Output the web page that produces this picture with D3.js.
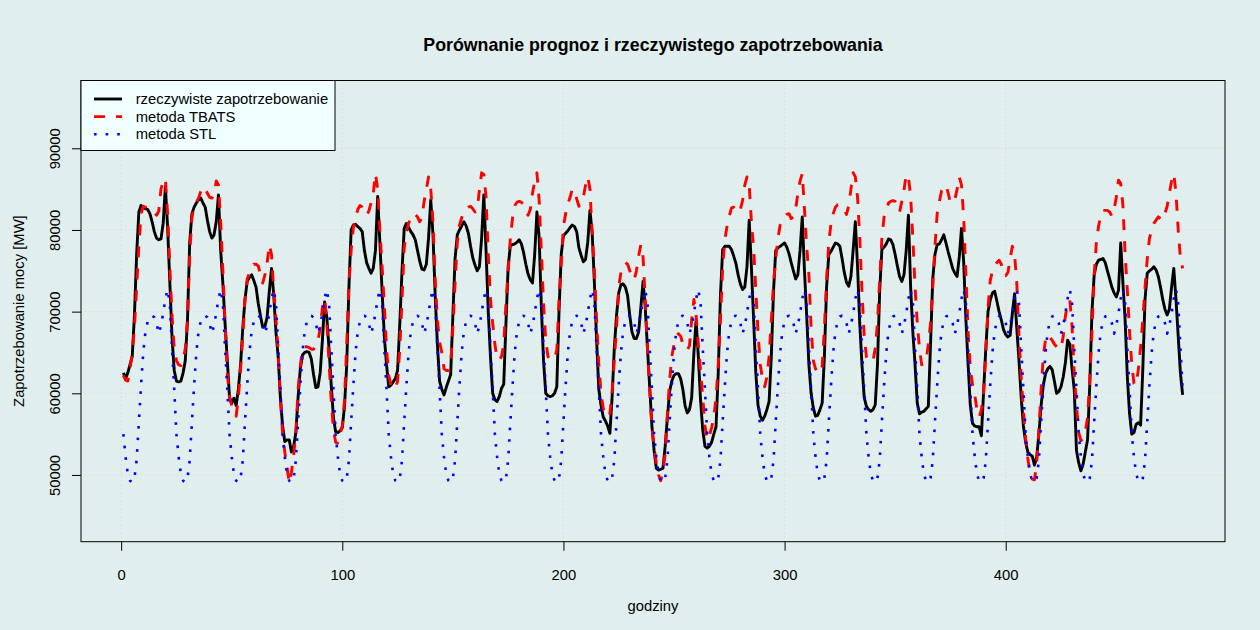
<!DOCTYPE html>
<html>
<head>
<meta charset="utf-8">
<script src="https://cdn.jsdelivr.net/npm/d3@7"></script>
<style>
  body { margin: 0; background: #e0eeee; }
  text { font-family: "Liberation Sans", Arial, Helvetica, sans-serif; fill: #000; }
</style>
</head>
<body>
<script>
// hourly demand, thousands of MW, 20 days x 24 h (x = 1..480)
var actual = [
  62.5, 61.8, 62.5, 63.5, 64.5, 69.5, 77.0, 82.2, 83.0, 82.8, 82.6, 82.5, 82.0, 81.0, 79.8, 79.0, 78.8, 78.9, 80.8, 85.3, 80.4, 73.6, 66.9, 62.8,
  61.5, 61.4, 61.5, 62.5, 64.0, 69.0, 78.5, 82.0, 82.8, 83.3, 83.7, 83.9, 83.3, 82.8, 81.2, 79.8, 79.0, 79.4, 81.0, 84.3, 77.5, 73.4, 68.5, 64.0,
  59.5, 58.8, 59.4, 58.5, 60.5, 63.5, 68.0, 71.5, 73.7, 74.2, 74.5, 73.8, 73.0, 71.0, 69.5, 68.1, 68.2, 69.3, 72.5, 75.3, 72.0, 67.5, 64.5, 59.5,
  56.0, 54.1, 54.3, 54.3, 52.8, 53.5, 55.2, 59.5, 63.0, 64.7, 65.0, 65.1, 65.0, 64.2, 62.3, 60.7, 60.8, 62.5, 66.5, 71.2, 69.3, 65.5, 61.0, 57.0,
  55.3, 55.2, 55.4, 55.8, 58.4, 63.5, 73.0, 80.0, 80.6, 80.7, 80.4, 80.2, 79.8, 77.5, 76.0, 75.3, 74.7, 75.3, 77.5, 84.1, 78.5, 72.5, 67.0, 63.5,
  60.8, 61.0, 61.4, 61.8, 62.8, 68.5, 75.0, 80.2, 80.8, 80.3, 79.8, 79.4, 78.8, 77.5, 76.2, 75.2, 75.1, 75.8, 79.0, 83.7, 79.5, 72.0, 66.0, 61.5,
  60.5, 59.8, 60.7, 61.5, 62.3, 69.5, 76.5, 79.4, 80.0, 80.5, 81.0, 80.5, 79.6, 78.0, 76.6, 75.7, 75.0, 75.5, 79.0, 84.3, 77.5, 70.0, 64.5, 60.0,
  59.2, 59.0, 59.6, 60.6, 61.1, 68.5, 75.5, 78.1, 78.2, 78.3, 78.5, 78.8, 78.3, 77.2, 75.8, 74.6, 73.9, 73.5, 77.0, 82.2, 79.2, 70.7, 64.0, 60.0,
  59.7, 59.6, 59.7, 60.0, 60.8, 70.0, 77.0, 79.3, 79.6, 79.9, 80.3, 80.6, 80.4, 79.8, 77.8, 76.9, 76.1, 76.4, 78.5, 82.4, 79.6, 73.5, 66.5, 60.5,
  58.5, 57.1, 56.6, 56.0, 55.1, 59.5, 65.5, 69.5, 72.3, 73.3, 73.4, 73.0, 72.0, 69.5, 67.5, 66.7, 66.7, 67.5, 70.5, 73.7, 70.5, 65.5, 60.8, 56.0,
  53.0, 50.8, 50.6, 50.7, 50.8, 53.5, 57.0, 60.2, 61.5, 62.2, 62.4, 62.4, 61.8, 60.5, 58.5, 57.6, 58.0, 59.5, 65.0, 69.0, 64.5, 59.2, 55.5, 53.5,
  53.3, 53.5, 54.0, 55.0, 55.9, 62.5, 72.0, 77.6, 78.0, 78.0, 78.0, 77.6, 76.8, 75.9, 74.5, 73.4, 72.7, 73.0, 75.5, 81.2, 75.5, 69.0, 62.5, 58.5,
  57.2, 56.7, 57.2, 58.0, 59.0, 64.5, 72.5, 77.5, 77.8, 78.0, 78.2, 78.4, 77.9, 77.1, 76.0, 75.0, 74.0, 74.5, 77.5, 81.6, 75.0, 69.5, 63.5, 60.0,
  58.2, 57.2, 57.3, 58.0, 58.8, 64.5, 73.0, 77.0, 77.4, 77.9, 78.4, 78.3, 78.0, 76.5, 74.8, 73.6, 73.1, 74.3, 77.5, 81.0, 75.5, 68.5, 63.5, 59.5,
  58.4, 58.0, 57.8, 58.0, 58.6, 63.5, 72.5, 77.6, 77.9, 78.3, 78.9, 78.8, 78.2, 77.0, 75.6, 74.3, 73.7, 74.5, 77.5, 81.8, 73.0, 67.5, 63.5, 58.8,
  57.5, 57.7, 57.8, 58.1, 58.4, 66.0, 74.0, 77.0, 78.2, 78.3, 78.8, 79.4, 78.4, 77.3, 76.3, 75.3, 74.7, 74.3, 76.7, 80.2, 76.0, 69.0, 63.5, 58.5,
  56.3, 56.0, 55.9, 55.9, 54.8, 60.2, 65.5, 70.0, 71.4, 72.3, 72.5, 71.3, 70.0, 69.0, 67.8, 67.2, 66.9, 67.1, 69.8, 72.2, 68.0, 64.0, 59.5, 56.0,
  54.0, 52.8, 52.5, 52.3, 51.2, 52.2, 55.0, 58.5, 61.0, 62.4, 63.0, 63.3, 62.9, 61.5, 60.0, 60.2, 60.8, 62.0, 63.8, 66.5, 66.0, 63.0, 60.4, 53.0,
  51.5, 50.5, 51.3, 52.8, 54.3, 61.0, 70.0, 74.5, 75.8, 76.3, 76.4, 76.5, 76.0, 75.0, 74.0, 73.0, 72.3, 71.8, 72.6, 78.4, 73.5, 69.0, 62.0, 57.5,
  55.0, 55.2, 56.2, 56.4, 56.1, 63.0, 71.5, 74.7, 75.0, 75.2, 75.5, 75.1, 74.3, 73.0, 71.5, 70.3, 69.6, 70.3, 73.0, 75.3, 71.5, 67.0, 62.5, 59.8
];

var tbats = [
  62.2, 61.6, 61.5, 63.0, 65.0, 68.0, 73.0, 78.0, 82.0, 82.9, 82.8, 82.7, 82.6, 82.5, 82.2, 81.8, 82.3, 85.0, 86.0, 86.3, 82.0, 75.5, 69.5, 65.5,
  64.0, 63.5, 63.4, 64.0, 65.5, 69.0, 77.0, 81.5, 83.0, 83.4, 83.9, 84.7, 85.3, 85.0, 84.5, 84.0, 83.9, 84.3, 86.0, 85.5, 81.0, 75.0, 68.5, 62.4,
  59.5, 58.5, 57.8, 57.2, 59.5, 63.0, 67.0, 71.5, 74.0, 74.8, 75.3, 75.8, 75.8, 75.6, 74.5, 73.5, 74.5, 76.0, 78.2, 77.0, 72.5, 69.2, 65.0, 59.5,
  55.0, 52.8, 51.0, 49.0, 50.3, 52.5, 55.0, 60.5, 63.3, 65.5, 65.7, 65.7, 65.6, 65.4, 65.4, 65.8, 66.4, 68.0, 70.5, 71.6, 68.5, 63.8, 59.0, 55.5,
  54.0, 53.9, 55.0, 56.0, 59.2, 66.0, 73.5, 77.5, 80.3, 81.5, 82.5, 83.0, 82.8, 82.3, 81.8, 82.3, 83.3, 84.5, 86.9, 85.0, 80.0, 75.5, 70.8, 65.5,
  62.2, 61.0, 60.5, 60.6, 61.5, 65.5, 71.5, 77.8, 79.8, 80.8, 81.6, 82.0, 81.9, 81.6, 81.0, 81.5, 83.5, 85.0, 86.5, 85.0, 81.0, 74.0, 69.0, 66.3,
  65.0, 63.0, 62.8, 62.8, 63.5, 68.0, 73.5, 78.5, 80.6, 81.5, 82.3, 82.6, 82.8, 82.9, 82.6, 82.2, 82.5, 84.9, 87.0, 86.8, 84.0, 77.0, 71.5, 68.6,
  66.0, 64.2, 64.1, 64.5, 66.0, 71.0, 75.0, 79.0, 81.5, 83.0, 83.4, 83.5, 83.4, 83.0, 82.4, 81.8, 82.5, 84.5, 86.0, 87.0, 83.7, 77.5, 71.0, 66.5,
  64.5, 64.1, 64.1, 64.3, 65.3, 71.5, 76.0, 80.5, 82.0, 83.2, 84.0, 85.0, 84.8, 83.8, 82.9, 83.5, 84.0, 85.5, 86.5, 85.0, 79.5, 75.0, 69.0, 63.5,
  60.0, 58.2, 57.1, 57.3, 57.5, 60.2, 64.0, 68.0, 73.0, 74.8, 75.6, 76.0, 75.8, 75.0, 74.3, 73.9, 75.0, 76.8, 78.2, 76.7, 71.5, 65.5, 60.5, 55.8,
  53.5, 51.4, 50.0, 49.3, 50.5, 52.5, 57.5, 61.5, 64.5, 66.0, 67.0, 67.3, 67.0, 66.0, 65.5, 65.3, 65.8, 69.0, 71.5, 69.5, 66.0, 62.8, 59.5, 56.0,
  54.3, 54.8, 55.8, 57.0, 59.5, 63.5, 69.0, 75.5, 78.8, 80.5, 81.7, 82.7, 82.8, 82.5, 82.1, 82.5, 83.6, 85.5, 86.5, 85.5, 81.0, 77.8, 72.5, 67.5,
  63.5, 61.8, 60.8, 62.0, 64.5, 69.0, 73.5, 76.5, 79.0, 80.6, 81.2, 81.7, 81.9, 82.0, 81.4, 81.6, 82.5, 84.5, 86.0, 86.9, 82.5, 78.0, 74.5, 68.0,
  64.0, 63.0, 62.4, 62.8, 63.3, 68.0, 74.0, 78.5, 80.8, 82.0, 82.8, 83.1, 83.0, 82.9, 82.5, 81.9, 83.0, 85.0, 87.0, 86.5, 84.0, 79.0, 72.5, 67.0,
  64.5, 63.9, 63.9, 64.0, 65.5, 68.6, 74.0, 79.0, 81.6, 82.5, 83.3, 83.5, 83.6, 83.5, 83.0, 82.2, 83.5, 84.9, 86.8, 86.5, 84.1, 79.0, 73.0, 68.6,
  65.5, 63.5, 63.6, 64.0, 66.0, 68.6, 73.0, 78.0, 82.0, 83.5, 84.8, 85.3, 85.5, 84.5, 83.3, 83.4, 83.7, 85.0, 86.5, 85.5, 81.5, 74.5, 67.5, 63.0,
  61.0, 59.8, 58.0, 57.1, 58.0, 60.0, 65.0, 70.5, 73.8, 75.0, 75.6, 76.0, 76.3, 75.8, 74.5, 74.4, 74.8, 76.5, 78.0, 77.0, 73.5, 67.0, 62.0, 58.0,
  54.5, 52.0, 50.3, 49.5, 49.4, 51.5, 55.5, 60.5, 64.5, 66.6, 67.2, 66.8, 66.5, 66.0, 65.7, 65.4, 65.5, 67.0, 69.5, 71.0, 71.4, 68.2, 62.4, 58.5,
  55.2, 54.2, 54.5, 55.3, 57.0, 61.5, 67.5, 74.5, 78.5, 80.5, 81.8, 82.4, 82.4, 82.4, 82.2, 81.7, 82.5, 84.0, 86.1, 85.7, 83.0, 77.0, 72.6, 67.5,
  63.5, 61.2, 61.0, 63.0, 65.7, 69.0, 73.0, 76.5, 79.0, 80.0, 80.8, 81.2, 81.6, 81.4, 81.2, 82.0, 82.9, 84.5, 86.0, 86.9, 84.5, 80.0, 76.5, 75.3
];

var stl = [
  55.0, 52.2, 50.1, 49.3, 49.1, 49.6, 51.8, 56.5, 61.0, 65.0, 67.6, 68.8, 69.4, 69.5, 69.3, 68.6, 67.3, 68.3, 69.8, 71.6, 72.7, 71.0, 65.5, 60.5,
  55.0, 52.2, 50.1, 49.3, 49.1, 49.6, 51.8, 56.5, 61.0, 65.0, 67.6, 68.8, 69.4, 69.5, 69.3, 68.6, 67.3, 68.3, 69.8, 71.6, 72.7, 71.0, 65.5, 60.5,
  55.0, 52.2, 50.1, 49.3, 49.1, 49.6, 51.8, 56.5, 61.0, 65.0, 67.6, 68.8, 69.4, 69.5, 69.3, 68.6, 67.3, 68.3, 69.8, 71.6, 72.7, 71.0, 65.5, 60.5,
  55.0, 52.2, 50.1, 49.3, 49.1, 49.6, 51.8, 56.5, 61.0, 65.0, 67.6, 68.8, 69.4, 69.5, 69.3, 68.6, 67.3, 68.3, 69.8, 71.6, 72.7, 71.0, 65.5, 60.5,
  55.0, 52.2, 50.1, 49.3, 49.1, 49.6, 51.8, 56.5, 61.0, 65.0, 67.6, 68.8, 69.4, 69.5, 69.3, 68.6, 67.3, 68.3, 69.8, 71.6, 72.7, 71.0, 65.5, 60.5,
  55.0, 52.2, 50.1, 49.3, 49.1, 49.6, 51.8, 56.5, 61.0, 65.0, 67.6, 68.8, 69.4, 69.5, 69.3, 68.6, 67.3, 68.3, 69.8, 71.6, 72.7, 71.0, 65.5, 60.5,
  55.0, 52.2, 50.1, 49.3, 49.1, 49.6, 51.8, 56.5, 61.0, 65.0, 67.6, 68.8, 69.4, 69.5, 69.3, 68.6, 67.3, 68.3, 69.8, 71.6, 72.7, 71.0, 65.5, 60.5,
  55.0, 52.2, 50.1, 49.3, 49.1, 49.6, 51.8, 56.5, 61.0, 65.0, 67.6, 68.8, 69.4, 69.5, 69.3, 68.6, 67.3, 68.3, 69.8, 71.6, 72.7, 71.0, 65.5, 60.5,
  55.0, 52.2, 50.1, 49.3, 49.1, 49.6, 51.8, 56.5, 61.0, 65.0, 67.6, 68.8, 69.4, 69.5, 69.3, 68.6, 67.3, 68.3, 69.8, 71.6, 72.7, 71.0, 65.5, 60.5,
  55.0, 52.2, 50.1, 49.3, 49.1, 49.6, 51.8, 56.5, 61.0, 65.0, 67.6, 68.8, 69.4, 69.5, 69.3, 68.6, 67.3, 68.3, 69.8, 71.6, 72.7, 71.0, 65.5, 60.5,
  55.0, 52.2, 50.1, 49.3, 49.1, 49.6, 51.8, 56.5, 61.0, 65.0, 67.6, 68.8, 69.4, 69.5, 69.3, 68.6, 67.3, 68.3, 69.8, 71.6, 72.7, 71.0, 65.5, 60.5,
  55.0, 52.2, 50.1, 49.3, 49.1, 49.6, 51.8, 56.5, 61.0, 65.0, 67.6, 68.8, 69.4, 69.5, 69.3, 68.6, 67.3, 68.3, 69.8, 71.6, 72.7, 71.0, 65.5, 60.5,
  55.0, 52.2, 50.1, 49.3, 49.1, 49.6, 51.8, 56.5, 61.0, 65.0, 67.6, 68.8, 69.4, 69.5, 69.3, 68.6, 67.3, 68.3, 69.8, 71.6, 72.7, 71.0, 65.5, 60.5,
  55.0, 52.2, 50.1, 49.3, 49.1, 49.6, 51.8, 56.5, 61.0, 65.0, 67.6, 68.8, 69.4, 69.5, 69.3, 68.6, 67.3, 68.3, 69.8, 71.6, 72.7, 71.0, 65.5, 60.5,
  55.0, 52.2, 50.1, 49.3, 49.1, 49.6, 51.8, 56.5, 61.0, 65.0, 67.6, 68.8, 69.4, 69.5, 69.3, 68.6, 67.3, 68.3, 69.8, 71.6, 72.7, 71.0, 65.5, 60.5,
  55.0, 52.2, 50.1, 49.3, 49.1, 49.6, 51.8, 56.5, 61.0, 65.0, 67.6, 68.8, 69.4, 69.5, 69.3, 68.6, 67.3, 68.3, 69.8, 71.6, 72.7, 71.0, 65.5, 60.5,
  55.0, 52.2, 50.1, 49.3, 49.1, 49.6, 51.8, 56.5, 61.0, 65.0, 67.6, 68.8, 69.4, 69.5, 69.3, 68.6, 67.3, 68.3, 69.8, 71.6, 72.7, 71.0, 65.5, 60.5,
  55.0, 52.2, 50.1, 49.3, 49.1, 49.6, 51.8, 56.5, 61.0, 65.0, 67.6, 68.8, 69.4, 69.5, 69.3, 68.6, 67.3, 68.3, 69.8, 71.6, 72.7, 71.0, 65.5, 60.5,
  55.0, 52.2, 50.1, 49.3, 49.1, 49.6, 51.8, 56.5, 61.0, 65.0, 67.6, 68.8, 69.4, 69.5, 69.3, 68.6, 67.3, 68.3, 69.8, 71.6, 72.7, 71.0, 65.5, 60.5,
  55.0, 52.2, 50.1, 49.3, 49.1, 49.6, 51.8, 56.5, 61.0, 65.0, 67.6, 68.8, 69.4, 69.5, 69.3, 68.6, 67.3, 68.3, 69.8, 71.6, 72.7, 71.0, 65.5, 60.5
];

var xTicks = [0, 100, 200, 300, 400];
var yTicks = [50000, 60000, 70000, 80000, 90000];
var legendNames = ["rzeczywiste zapotrzebowanie", "metoda TBATS", "metoda STL"];

var width = 1260, height = 630;
var box = {left: 81, right: 1225, top: 80.5, bottom: 541.7};
var lwd = 2.9;
var fontSize = 14.8;

// R style axis limits: data range padded by 4% each side
var xlim = [1, 480], ylim = [43920, 96210];
var xpad = (xlim[1] - xlim[0]) * 0.04, ypad = (ylim[1] - ylim[0]) * 0.04;

var x = d3.scaleLinear().domain([xlim[0] - xpad, xlim[1] + xpad]).range([box.left, box.right]);
var y = d3.scaleLinear().domain([ylim[0] - ypad, ylim[1] + ypad]).range([box.bottom, box.top]);

var svg = d3.select("body").append("svg")
  .attr("width", width)
  .attr("height", height);

svg.append("rect")
  .attr("width", width)
  .attr("height", height)
  .attr("fill", "#e0eeee");

// grid
var grid = svg.append("g").attr("stroke", "#d3d3d3").attr("stroke-width", 1).attr("stroke-dasharray", "1,3");
grid.selectAll("line.v").data(xTicks).enter().append("line")
  .attr("x1", function(d) { return x(d); })
  .attr("x2", function(d) { return x(d); })
  .attr("y1", box.top)
  .attr("y2", box.bottom);
grid.selectAll("line.h").data(yTicks).enter().append("line")
  .attr("x1", box.left)
  .attr("x2", box.right)
  .attr("y1", function(d) { return y(d); })
  .attr("y2", function(d) { return y(d); });

// series
var line = d3.line()
  .x(function(d, i) { return x(i + 1); })
  .y(function(d) { return y(d * 1000); });

var series = [
  {values: actual, color: "black", dash: null, width: lwd},
  {values: tbats, color: "red", dash: "11,11", width: lwd},
  {values: stl, color: "blue", dash: "2.6,9", width: 2.6}
];

svg.append("g").selectAll("path")
  .data(series).enter()
  .append("path")
  .attr("d", function(d) { return line(d.values); })
  .attr("fill", "none")
  .attr("stroke", function(d) { return d.color; })
  .attr("stroke-width", function(d) { return d.width; })
  .attr("stroke-linejoin", "round")
  .attr("stroke-dasharray", function(d) { return d.dash; });

// box
svg.append("rect")
  .attr("x", box.left)
  .attr("y", box.top)
  .attr("width", box.right - box.left)
  .attr("height", box.bottom - box.top)
  .attr("fill", "none")
  .attr("stroke", "black")
  .attr("stroke-width", 1);

// axes
var yAxis = svg.append("g")
  .attr("transform", "translate(" + box.left + ",0)")
  .call(d3.axisLeft(y).tickValues(yTicks).tickSize(9).tickFormat(d3.format("d")));
yAxis.select(".domain").remove();
yAxis.selectAll(".tick text")
  .attr("transform", "rotate(-90)")
  .attr("x", 0)
  .attr("y", -26)
  .attr("dy", "0.35em")
  .style("text-anchor", "middle")
  .style("font-size", fontSize + "px")
  .style("font-family", "'Liberation Sans', Arial, sans-serif")
  .attr("fill", "#000");

var xAxis = svg.append("g")
  .attr("transform", "translate(0," + box.bottom + ")")
  .call(d3.axisBottom(x).tickValues(xTicks).tickSize(9).tickFormat(d3.format("d")));
xAxis.select(".domain").remove();
xAxis.selectAll(".tick text")
  .attr("y", 33)
  .attr("dy", "0.35em")
  .style("font-size", fontSize + "px")
  .style("font-family", "'Liberation Sans', Arial, sans-serif")
  .attr("fill", "#000");

// titles
svg.append("text")
  .attr("x", (box.left + box.right) / 2)
  .attr("y", 45)
  .attr("dy", "0.35em")
  .attr("text-anchor", "middle")
  .style("font-size", "17.8px")
  .style("font-weight", "bold")
  .text("Porównanie prognoz i rzeczywistego zapotrzebowania");

svg.append("text")
  .attr("x", (box.left + box.right) / 2)
  .attr("y", 606)
  .attr("dy", "0.35em")
  .attr("text-anchor", "middle")
  .style("font-size", fontSize + "px")
  .text("godziny");

svg.append("text")
  .attr("transform", "translate(19," + (box.top + box.bottom) / 2 + ") rotate(-90)")
  .attr("dy", "0.35em")
  .attr("text-anchor", "middle")
  .style("font-size", fontSize + "px")
  .text("Zapotrzebowanie mocy [MW]");

// legend
var legend = svg.append("g").attr("transform", "translate(" + box.left + "," + box.top + ")");
legend.append("rect")
  .attr("width", 254)
  .attr("height", 70)
  .attr("fill", "#f0ffff")
  .attr("stroke", "black")
  .attr("stroke-width", 1);

var rows = legend.selectAll("g.row")
  .data(series).enter()
  .append("g")
  .attr("transform", function(d, i) { return "translate(0," + (18.5 + i * 17.6) + ")"; });

rows.append("line")
  .attr("x1", 13)
  .attr("x2", 41)
  .attr("stroke", function(d) { return d.color; })
  .attr("stroke-width", function(d) { return d.width; })
  .attr("stroke-dasharray", function(d) { return d.dash; });

rows.append("text")
  .attr("x", 54.7)
  .attr("dy", "0.35em")
  .style("font-size", fontSize + "px")
  .text(function(d, i) { return legendNames[i]; });
</script>
</body>
</html>
